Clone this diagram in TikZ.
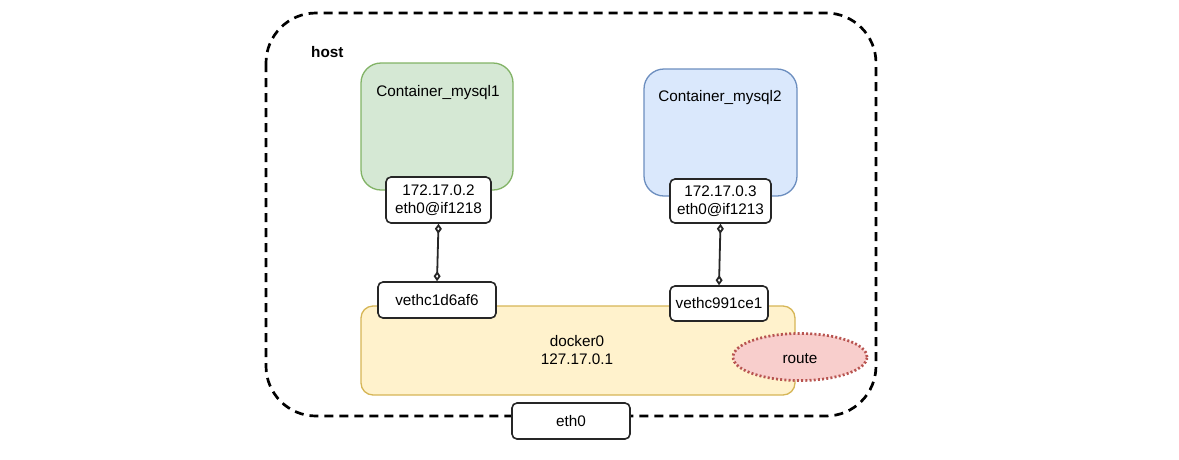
\documentclass[tikz,border=0pt]{standalone}
\usepackage{fontspec}
\setmainfont{Liberation Sans}
\usetikzlibrary{arrows.meta,shapes.geometric}
\definecolor{greenfill}{HTML}{D5E8D4}
\definecolor{greendraw}{HTML}{82B366}
\definecolor{bluefill}{HTML}{DAE8FC}
\definecolor{bluedraw}{HTML}{6C8EBF}
\definecolor{yellowfill}{HTML}{FFF2CC}
\definecolor{yellowdraw}{HTML}{D6B656}
\definecolor{redfill}{HTML}{F8CECC}
\definecolor{reddraw}{HTML}{B85450}
\tikzset{
  x=1pt, y=-1pt,
  every node/.style={font=\fontsize{15.3}{17.5}\selectfont, inner sep=0pt},
  container/.style={rectangle, rounded corners=20pt, line width=1.3pt},
  ifbox/.style={rectangle, rounded corners=5pt, draw=black!85, fill=white, line width=1.6pt, align=center},
  link/.style={line width=1.8pt, draw=black!85, {Diamond[open,length=10pt,width=7pt]}-{Diamond[open,length=10pt,width=7pt]}},
}
\begin{document}
\begin{tikzpicture}
\useasboundingbox (0,0) rectangle (1179,459);
% host
\draw[line width=2.7pt, dash pattern=on 9pt off 6pt, rounded corners=50pt] (266,13) rectangle (876,416);
\node[anchor=west, font=\fontsize{15.3}{17.5}\selectfont\bfseries] (host) at (311,52) {host};
% containers
\node[container, fill=greenfill, draw=greendraw, minimum width=152pt, minimum height=127pt] (c1) at (437,126.5) {};
\node (c1t) at (438,93) {Container\_mysql1};
\node[container, fill=bluefill, draw=bluedraw, minimum width=153pt, minimum height=127pt] (c2) at (720.5,132.5) {};
\node (c2t) at (720,98) {Container\_mysql2};
% docker0
\node[container, rounded corners=12pt, fill=yellowfill, draw=yellowdraw, minimum width=434pt, minimum height=89pt, align=center] (d0) at (578,350.5) {};
\node[align=center] (d0t) at (577,350) {docker0\\127.17.0.1};
% route
\node[ellipse, fill=redfill, draw=reddraw, line width=2.7pt, dash pattern=on 2pt off 2.2pt, minimum width=134pt, minimum height=47pt] (route) at (800,357) {};
\node (routet) at (800,359) {route};
% interfaces
\node[ifbox, minimum width=105pt, minimum height=46pt] (e1) at (438.5,200) {172.17.0.2\\eth0@if1218};
\node[ifbox, minimum width=101pt, minimum height=44pt] (e2) at (720.5,201) {172.17.0.3\\eth0@if1213};
\node[ifbox, minimum width=118pt, minimum height=36pt] (v1) at (437,300) {vethc1d6af6};
\node[ifbox, minimum width=98pt, minimum height=35pt] (v2) at (719,303.5) {vethc991ce1};
\node[ifbox, minimum width=118pt, minimum height=36pt] (eth0) at (571,421) {eth0};
% links
\draw[link] (e1.south) -- (v1.north);
\draw[link] (e2.south) -- (v2.north);
\end{tikzpicture}
\end{document}
